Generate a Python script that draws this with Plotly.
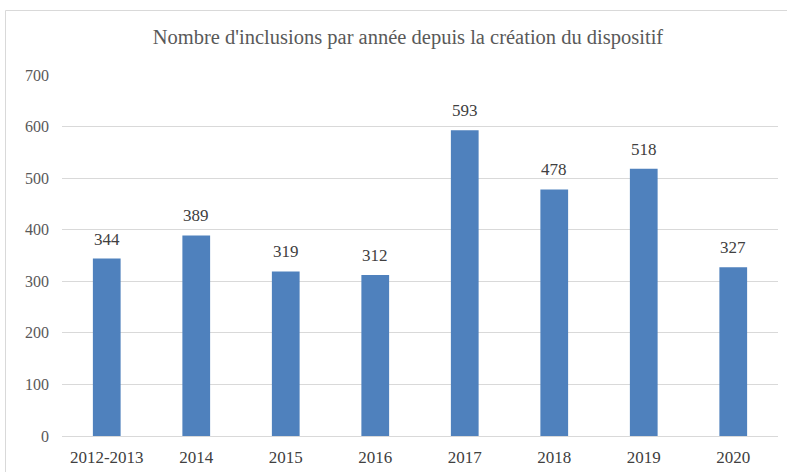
import plotly.graph_objects as go

# Inclusions per year
years = ["2012-2013", "2014", "2015", "2016", "2017", "2018", "2019", "2020"]
inclusions = [344, 389, 319, 312, 593, 478, 518, 327]
y_ticks = [0, 100, 200, 300, 400, 500, 600, 700]

W, H = 787, 472
ML, MR, MT, MB = 62, 9, 75, 36
plot_w = W - ML - MR
plot_h = H - MT - MB

def px_to_paper_x(px):
    return (px - ML) / plot_w

def px_to_paper_y(py):
    return (H - MB - py) / plot_h

serif = "Liberation Serif"

fig = go.Figure(
    go.Bar(
        x=years,
        y=inclusions,
        marker=dict(color="#4F81BD", line=dict(width=0)),
        hoverinfo="x+y",
    )
)

# value labels sitting above each bar (category index used as x position)
annotations = [
    dict(
        x=i,
        y=val,
        xref="x",
        yref="y",
        text=str(val),
        showarrow=False,
        yanchor="bottom",
        yshift=8,
        font=dict(family=serif, size=17, color="#404040"),
    )
    for i, val in enumerate(inclusions)
]

fig.update_layout(
    width=W,
    height=H,
    margin=dict(l=ML, r=MR, t=MT, b=MB),
    paper_bgcolor="white",
    plot_bgcolor="white",
    bargap=0.69,
    showlegend=False,
    font=dict(family=serif, size=15, color="#595959"),
    annotations=annotations,
    title=dict(
        text="Nombre d'inclusions par année depuis la création du dispositif",
        x=px_to_paper_x(408),
        xref="paper",
        xanchor="center",
        y=1 - 37 / H,
        yref="container",
        yanchor="middle",
        font=dict(family=serif, size=20.5, color="#595959"),
    ),
    xaxis=dict(
        type="category",
        categoryorder="array",
        categoryarray=years,
        range=[-0.5, len(years) - 0.5],
        automargin=False,
        showgrid=False,
        showline=False,
        ticks="",
        tickfont=dict(family=serif, size=17, color="#404040"),
        ticklabelstandoff=9,
    ),
    yaxis=dict(
        range=[0, 700],
        tickvals=y_ticks,
        automargin=False,
        showgrid=True,
        gridcolor="#D9D9D9",
        gridwidth=1,
        zeroline=True,
        zerolinecolor="#D9D9D9",
        zerolinewidth=1,
        showline=False,
        ticks="",
        tickfont=dict(family=serif, size=16, color="#595959"),
        ticklabelstandoff=12,
    ),
    shapes=[
        dict(
            type="rect",
            xref="paper",
            yref="paper",
            x0=px_to_paper_x(5.5),
            x1=px_to_paper_x(800),
            y0=px_to_paper_y(490),
            y1=px_to_paper_y(10.5),
            line=dict(color="#D9D9D9", width=1),
            fillcolor="rgba(0,0,0,0)",
            layer="below",
        )
    ],
)

fig.write_html("out.html")
